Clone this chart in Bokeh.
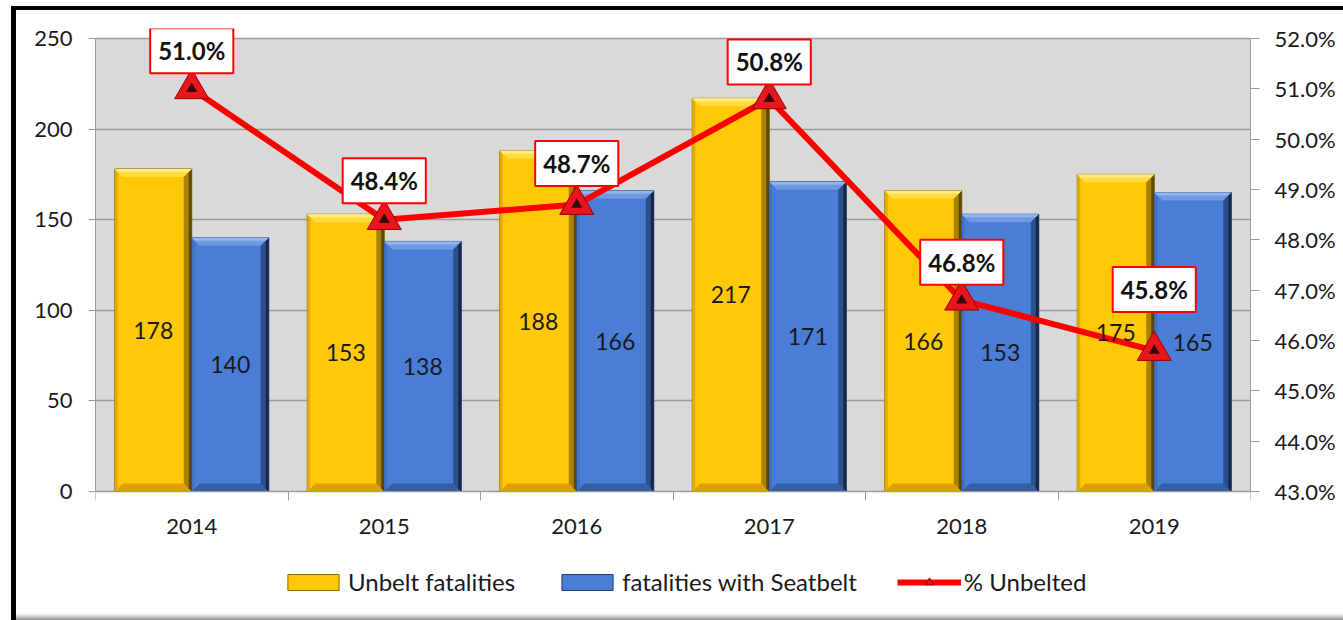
import numpy as np
from bokeh.plotting import figure
from bokeh.layouts import column, row
from bokeh.models import (Range1d, LinearAxis, FixedTicker, PrintfTickFormatter, ColumnDataSource,
                          LabelSet, Legend, LegendItem, BoxAnnotation, CustomJSTickFormatter, Div)
from bokeh.core.properties import value
from bokeh.embed import file_html
from bokeh.resources import INLINE

# ---------------- data ----------------
years = ["2014", "2015", "2016", "2017", "2018", "2019"]
unbelt_fatalities = [178, 153, 188, 217, 166, 175]
seatbelt_fatalities = [140, 138, 166, 171, 153, 165]
pct_unbelted = [51.0, 48.4, 48.7, 50.8, 46.8, 45.8]
left_ticks = [0, 50, 100, 150, 200, 250]
right_ticks = [43, 44, 45, 46, 47, 48, 49, 50, 51, 52]

# ---------------- style ----------------
label_lift = [38, 39, 41, 37, 38, 61]   # px from marker to % label box centre
W, H = 1327, 602
ML, MR, MT, MB = 79, 93, 18, 0
HEAD = 10          # px of frame above the gray plot area
FOOT = 121         # px of frame below the gray plot area (axis labels + legend)
FW, FH = W - ML - MR, H - MT - MB
AREA_H = FH - HEAD - FOOT
FONT = "Lato"
GRID = "#9c9c9c"
TXT = "#1a1a1a"

n = len(years)
centers = np.arange(n) + 0.5
BW = 0.4
x_unb = centers - BW / 2
x_bel = centers + BW / 2

ytop = left_ticks[-1]
PX_X = n / FW
PX_Y = ytop / AREA_H
PX_P = (right_ticks[-1] - right_ticks[0]) / AREA_H

p = figure(width=W, height=H, x_range=Range1d(0, n),
           y_range=Range1d(-FOOT * PX_Y, ytop + HEAD * PX_Y),
           output_backend="svg", toolbar_location=None,
           min_border_left=ML, min_border_right=MR, min_border_top=MT, min_border_bottom=MB)
p.extra_y_ranges = {"pct": Range1d(right_ticks[0] - FOOT * PX_P, right_ticks[-1] + HEAD * PX_P)}
p.background_fill_color = "white"
p.border_fill_color = "white"
p.outline_line_color = None
p.xgrid.visible = False
p.ygrid.grid_line_color = GRID
p.ygrid.grid_line_width = 1.3

# gray plot area
p.add_layout(BoxAnnotation(bottom=0, top=ytop, fill_color="#D9D9D9", fill_alpha=1,
                           line_color=None, level="image"))

# left axis
p.yaxis.ticker = FixedTicker(ticks=left_ticks)
p.yaxis.bounds = (0, ytop)
p.yaxis.major_tick_out = 7
p.yaxis.major_tick_in = 0
p.yaxis.minor_tick_line_color = None
p.yaxis.axis_line_color = GRID
p.yaxis.major_tick_line_color = GRID
p.yaxis.major_label_standoff = 16
p.yaxis.major_label_text_font = FONT
p.yaxis.major_label_text_font_size = "22px"
p.yaxis.major_label_text_color = TXT

# bottom axis (ticks at category boundaries), pinned at y = 0
p.xaxis.fixed_location = 0
p.xaxis.ticker = FixedTicker(ticks=list(centers), minor_ticks=list(range(n + 1)))
p.xaxis.formatter = CustomJSTickFormatter(args=dict(names=years), code="return names[Math.floor(tick)];")
p.xaxis.major_tick_line_color = None
p.xaxis.minor_tick_out = 9
p.xaxis.minor_tick_in = 0
p.xaxis.minor_tick_line_color = GRID
p.xaxis.axis_line_color = GRID
p.xaxis.major_label_standoff = 18
p.xaxis.major_label_text_font = FONT
p.xaxis.major_label_text_font_size = "22px"
p.xaxis.major_label_text_color = TXT

# right axis
ax_r = LinearAxis(y_range_name="pct", ticker=FixedTicker(ticks=right_ticks),
                  formatter=PrintfTickFormatter(format="%.1f%%"))
ax_r.bounds = (right_ticks[0], right_ticks[-1])
ax_r.major_tick_out = 9
ax_r.major_tick_in = 0
ax_r.minor_tick_line_color = None
ax_r.axis_line_color = GRID
ax_r.major_tick_line_color = GRID
ax_r.major_label_standoff = 15
ax_r.major_label_text_font = FONT
ax_r.major_label_text_font_size = "22px"
ax_r.major_label_text_color = TXT
p.add_layout(ax_r, "right")

# ---------------- bars with bevel ----------------
def bevel(xc, tops, w, b):
    dx, dy = b * PX_X, b * PX_Y
    d = {k: ([], []) for k in ("top", "bottom", "left", "right")}
    for x, t in zip(xc, tops):
        l, r = x - w / 2, x + w / 2
        d["top"][0].append([l, r, r - dx, l + dx]); d["top"][1].append([t, t, t - dy, t - dy])
        d["bottom"][0].append([l, r, r - dx, l + dx]); d["bottom"][1].append([0, 0, dy, dy])
        d["left"][0].append([l, l + dx, l + dx, l]); d["left"][1].append([0, dy, t - dy, t])
        d["right"][0].append([r, r - dx, r - dx, r]); d["right"][1].append([0, dy, t - dy, t])
    return d


def draw_bars(xc, tops, main, shades, edge):
    r = p.vbar(x=xc, top=tops, width=BW, bottom=0, fill_color=main, line_color=edge, line_width=1)
    big = bevel(xc, tops, BW, 8)
    thin = bevel(xc, tops, BW, 3)
    p.patches(xs=big["bottom"][0], ys=big["bottom"][1], fill_color=shades["bottom"], line_color=None)
    p.patches(xs=big["top"][0], ys=big["top"][1], fill_color=shades["top"], line_color=None)
    p.patches(xs=thin["left"][0], ys=thin["left"][1], fill_color=shades["left"], line_color=None)
    p.patches(xs=big["right"][0], ys=big["right"][1], fill_color=shades["right"], line_color=None)
    p.patches(xs=thin["right"][0], ys=thin["right"][1], fill_color=shades["edge"], line_color=None)
    p.patches(xs=thin["top"][0], ys=thin["top"][1], fill_color=shades["hi"], line_color=None)
    return r


r_unb = draw_bars(x_unb, unbelt_fatalities, "#FFC908",
                  dict(top="#FFDC3C", hi="#FFEA80", bottom="#D9A200", left="#E2AC00",
                       right="#A98300", edge="#5E4700"), "#8A6800")
r_bel = draw_bars(x_bel, seatbelt_fatalities, "#4A7DD5",
                  dict(top="#6E9AE4", hi="#93B5EE", bottom="#35609F", left="#4272C0",
                       right="#2D4F8C", edge="#16294C"), "#233F70")

# bar value labels
src_b = ColumnDataSource(dict(
    x=list(x_unb) + list(x_bel),
    y=[v / 2 for v in unbelt_fatalities] + [v / 2 for v in seatbelt_fatalities],
    t=[str(v) for v in unbelt_fatalities] + [str(v) for v in seatbelt_fatalities]))
p.add_layout(LabelSet(x="x", y="y", text="t", source=src_b, text_align="center", text_baseline="middle",
                      text_font=value(FONT), text_font_size="23px", text_color=TXT))

# ---------------- percentage line ----------------
r_line = p.line(x=centers, y=pct_unbelted, y_range_name="pct", line_color="#FF0000", line_width=6)
r_mark = p.scatter(x=centers, y=pct_unbelted, y_range_name="pct", marker="triangle", size=34,
                   fill_color="#E8141E", line_color="#9B0000", line_width=1)
p.scatter(x=centers, y=pct_unbelted, y_range_name="pct", marker="triangle", size=11,
          fill_color="#3a0808", line_color=None)

src_p = ColumnDataSource(dict(x=centers, y=pct_unbelted, off=[-v for v in label_lift],
                              t=["%.1f%%" % v for v in pct_unbelted]))
p.text(x="x", y="y", y_range_name="pct", text="t", y_offset="off", source=src_p,
       text_align="center", text_baseline="middle", text_font=value(FONT),
       text_font_size="24px", text_font_style="bold", text_color="#111111",
       background_fill_color="white", border_line_color="#FF0000",
       border_line_width=2, padding=8)

# ---------------- legend (inside the frame, below the axis labels) ----------------
legend = Legend(items=[LegendItem(label="Unbelt fatalities", renderers=[r_unb]),
                       LegendItem(label="fatalities with Seatbelt", renderers=[r_bel]),
                       LegendItem(label="% Unbelted", renderers=[r_line, r_mark])],
                orientation="horizontal", location=(186, 16), glyph_width=64, glyph_height=20,
                label_standoff=3, spacing=40, padding=0, margin=0,
                background_fill_alpha=0, border_line_color=None,
                label_text_font=FONT, label_text_font_size="24px", label_text_color=TXT)
p.add_layout(legend)

# ---------------- outer frame (black top/left edge, gray bottom shadow) ----------------
top_line = Div(text="", width=W + 5, height=4, margin=0, styles={"background-color": "#000000"})
left_line = Div(text="", width=5, height=H + 8, margin=0, styles={"background-color": "#000000"})
shadow = Div(text="", width=W, height=8, margin=0,
             styles={"background": "linear-gradient(#ffffff, #f0f0f0 30%, #8f8f8f)"})
page = column(top_line, row(left_line, column(p, shadow, spacing=0), spacing=0),
              spacing=0, margin=(6, 0, 0, 11))

open("out.html", "w").write(file_html(page, INLINE))
